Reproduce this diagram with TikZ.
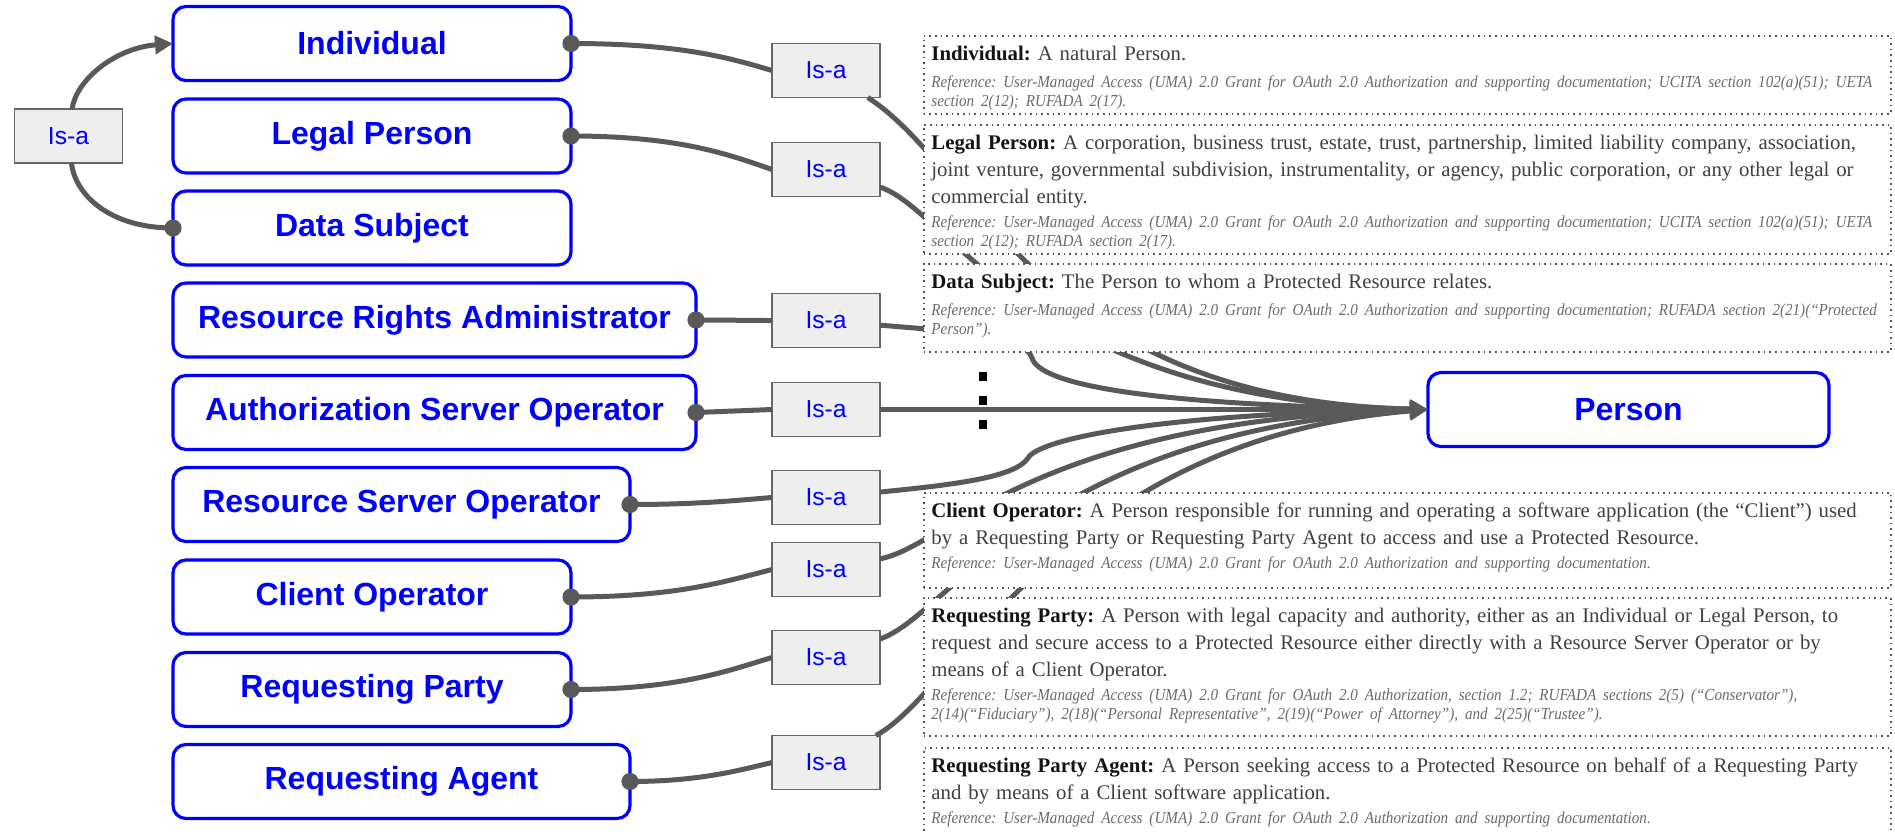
\documentclass[tikz,border=0pt]{standalone}
\usepackage{fontspec}
\setmainfont{Liberation Serif}
\newfontfamily\labelfont{Liberation Sans}
\newfontfamily\citefont[FakeStretch=0.9]{Liberation Serif}
\usetikzlibrary{arrows.meta}

\definecolor{linkgray}{HTML}{595959}
\definecolor{boxblue}{HTML}{0000FF}
\definecolor{isafill}{HTML}{EEEEEE}
\definecolor{isaedge}{HTML}{666666}
\definecolor{titleink}{HTML}{141414}
\definecolor{bodyink}{HTML}{404040}
\definecolor{refink}{HTML}{6A6A6A}
\definecolor{frameink}{HTML}{555555}

\frenchspacing
\newcommand\bodysize{\fontsize{10.4}{13.5}\selectfont\frenchspacing}
\newcommand\refsize{\citefont\fontsize{8.4}{9.5}\selectfont\itshape\color{refink}}
\newcommand\term[1]{{\bfseries\color{titleink}#1}}
\newcommand\refline[1]{\mbox{#1}}

\tikzset{
  concept/.style={draw=boxblue, line width=1.6pt, rounded corners=6.5pt, fill=white,
    text=boxblue, font=\labelfont\bfseries\fontsize{16}{19}\selectfont,
    minimum height=37pt, outer sep=0pt},
  isabox/.style={draw=isaedge, line width=0.9pt, fill=isafill, text=boxblue,
    font=\labelfont\fontsize{12.3}{14}\selectfont,
    minimum width=54pt, minimum height=27pt, inner sep=0pt, outer sep=0pt},
  link/.style={draw=linkgray, line width=2.5pt},
  arrowlink/.style={link, -{Triangle[length=9pt,width=9pt]}},
  defframe/.style={draw=frameink, dotted, line width=0.8pt, fill=white,
    anchor=north west, minimum width=483.5pt, inner sep=0pt},
  deftext/.style={anchor=north west, text width=478pt, align=left, inner sep=0pt,
    text=bodyink, font=\bodysize},
  gapmark/.style={fill=black, minimum width=4pt, minimum height=4.5pt, inner sep=0pt}
}

\begin{document}
\begin{tikzpicture}[x=0.5pt, y=-0.5pt]
\useasboundingbox (0,0) rectangle (1895,831);

% concept boxes
\node[concept, minimum width=199pt] (ind) at (372,43.5) {Individual};
\node[concept, minimum width=199pt] (leg) at (372,136) {Legal Person};
\node[concept, minimum width=199pt] (ds)  at (372,228) {Data Subject};
\node[concept, minimum width=261.5pt] (rra) at (434.5,320) {Resource Rights Administrator};
\node[concept, minimum width=261.5pt] (aso) at (434.5,412.5) {Authorization Server Operator};
\node[concept, minimum width=228.5pt] (rso) at (401.5,504.5) {Resource Server Operator};
\node[concept, minimum width=199pt] (co)  at (372,597) {Client Operator};
\node[concept, minimum width=199pt] (rp)  at (372,689.5) {Requesting Party};
\node[concept, minimum width=228.5pt] (ra) at (401.5,781.5) {Requesting Agent};
\node[concept, minimum width=200.5pt] (person) at (1628.5,409.5) {Person};

% relation boxes
\node[isabox] (isaL) at (68.5,136) {Is-a};
\node[isabox] (isa1) at (826,70.5) {Is-a};
\node[isabox] (isa2) at (826,169.5) {Is-a};
\node[isabox] (isa3) at (826,320.5) {Is-a};
\node[isabox] (isa4) at (826,409.5) {Is-a};
\node[isabox] (isa5) at (826,497.5) {Is-a};
\node[isabox] (isa6) at (826,569.5) {Is-a};
\node[isabox] (isa7) at (826,657.5) {Is-a};
\node[isabox] (isa8) at (826,762.5) {Is-a};

% left loop
\draw[link] (ds.west) .. controls (110,228) and (75,195) .. (isaL);
\draw[arrowlink] (isaL) .. controls (76,80) and (115,48) .. (ind.west);

% concept -> Is-a
\draw[link] (ind.east) .. controls (680,43.5) and (730,58) .. (isa1.west);
\draw[link] (leg.east) .. controls (680,136) and (730,155) .. (isa2.west);
\draw[link] (rra.east) .. controls (730,320) and (745,320.5) .. (isa3.west);
\draw[link] (aso.east) -- (isa4.west);
\draw[link] (rso.east) .. controls (700,504.5) and (740,500) .. (isa5.west);
\draw[link] (co.east) .. controls (680,597) and (730,580) .. (isa6.west);
\draw[link] (rp.east) .. controls (680,689.5) and (730,670) .. (isa7.west);
\draw[link] (ra.east) .. controls (700,781.5) and (740,770) .. (isa8.west);

% Is-a -> Person
\draw[arrowlink] (isa1) .. controls (980,170) and (1040,400) .. (person.west);
\draw[arrowlink] (isa2) .. controls (950,210) and (1030,400) .. (person.west);
\draw[arrowlink] (isa3) .. controls (960,332) and (1025,335) .. (1032,358)
  .. controls (1040,385) and (1150,405) .. (person.west);
\draw[arrowlink] (isa4) -- (person.west);
\draw[arrowlink] (isa5) .. controls (950,485) and (1015,478) .. (1028,458)
  .. controls (1038,440) and (1150,414) .. (person.west);
\draw[arrowlink] (isa6) .. controls (950,545) and (1030,420) .. (person.west);
\draw[arrowlink] (isa7) .. controls (950,615) and (1040,430) .. (person.west);
\draw[arrowlink] (isa8) .. controls (960,690) and (1060,440) .. (person.west);

% connector start dots
\foreach \n in {ind.east,leg.east,rra.east,aso.east,rso.east,co.east,rp.east,ra.east,ds.west}
  \fill[linkgray] (\n) circle[radius=4.3pt];

% definition panels
\node[defframe, minimum height=39pt]   (fInd) at (923,35) {};
\node[defframe, minimum height=64.5pt] (fLeg) at (923,124) {};
\node[defframe, minimum height=44pt]   (fDS)  at (923,263) {};
\node[defframe, minimum height=47.5pt] (fCO)  at (923,492) {};
\node[defframe, minimum height=69pt]   (fRP)  at (923,597) {};
\node[defframe, minimum height=45pt]   (fRA)  at (923,747) {};

\node[deftext] (tInd) at (931,41) {\strut\term{Individual:} A natural Person.\par
  \vspace{2.5pt}{\refsize \refline{Reference: User-Managed Access (UMA) 2.0 Grant for OAuth 2.0 Authorization and supporting documentation; UCITA section 102(a)(51); UETA}\\
  \refline{section 2(12); RUFADA 2(17).}\par}};

\node[deftext] (tLeg) at (931,130) {\strut\term{Legal Person:} A corporation, business trust, estate, trust, partnership, limited liability company, association,\\
  joint venture, governmental subdivision, instrumentality, or agency, public corporation, or any other legal or\\
  commercial entity.\par
  \vspace{2.5pt}{\refsize \refline{Reference: User-Managed Access (UMA) 2.0 Grant for OAuth 2.0 Authorization and supporting documentation; UCITA section 102(a)(51); UETA}\\
  \refline{section 2(12); RUFADA section 2(17).}\par}};

\node[deftext] (tDS) at (931,269) {\strut\term{Data Subject:} The Person to whom a Protected Resource relates.\par
  \vspace{2.5pt}{\refsize \refline{Reference: User-Managed Access (UMA) 2.0 Grant for OAuth 2.0 Authorization and supporting documentation; RUFADA section 2(21)(“Protected}\\
  \refline{Person”).}\par}};

\node[deftext] (tCO) at (931,498) {\strut\term{Client Operator:} A Person responsible for running and operating a software application (the “Client”) used\\
  by a Requesting Party or Requesting Party Agent to access and use a Protected Resource.\par
  \vspace{2.5pt}{\refsize \refline{Reference: User-Managed Access (UMA) 2.0 Grant for OAuth 2.0 Authorization and supporting documentation.}\par}};

\node[deftext] (tRP) at (931,603) {\strut\term{Requesting Party:} A Person with legal capacity and authority, either as an Individual or Legal Person, to\\
  request and secure access to a Protected Resource either directly with a Resource Server Operator or by\\
  means of a Client Operator.\par
  \vspace{2.5pt}{\refsize \refline{Reference: User-Managed Access (UMA) 2.0 Grant for OAuth 2.0 Authorization, section 1.2; RUFADA sections 2(5) (“Conservator”),}\\
  \refline{2(14)(“Fiduciary”), 2(18)(“Personal Representative”, 2(19)(“Power of Attorney”), and 2(25)(“Trustee”).}\par}};

\node[deftext] (tRA) at (931,753) {\strut\term{Requesting Party Agent:} A Person seeking access to a Protected Resource on behalf of a Requesting Party\\
  and by means of a Client software application.\par
  \vspace{2.5pt}{\refsize \refline{Reference: User-Managed Access (UMA) 2.0 Grant for OAuth 2.0 Authorization and supporting documentation.}\par}};

% ellipsis marks
\node[gapmark] (g1) at (983,376) {};
\node[gapmark] (g2) at (983,400) {};
\node[gapmark] (g3) at (983,424) {};
\end{tikzpicture}
\end{document}
